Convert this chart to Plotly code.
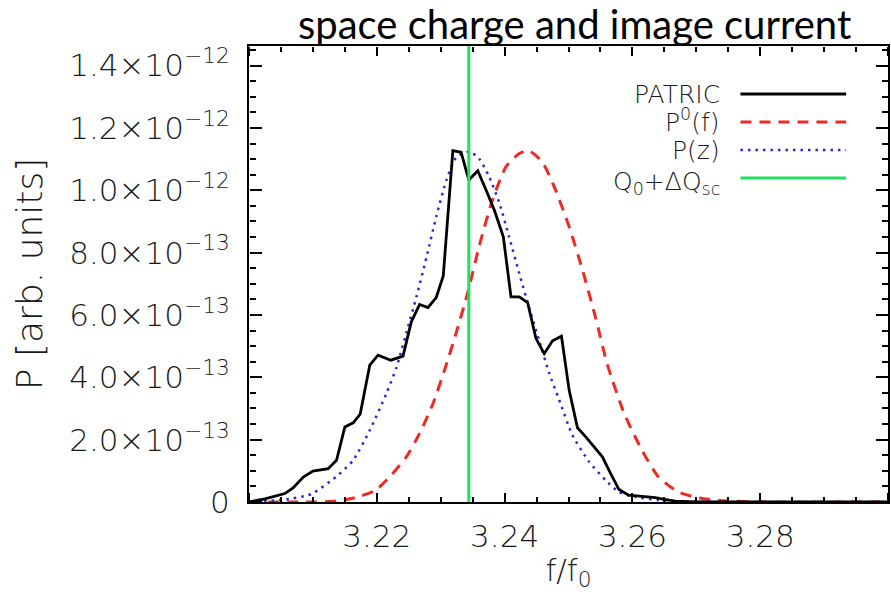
import plotly.graph_objects as go

# PATRIC simulated spectrum (f/f0, power in units of 1e-13)
patric_f = [3.2000, 3.2025, 3.2056, 3.2069, 3.2085, 3.2100, 3.2124, 3.2137, 3.2150,
            3.2163, 3.2174, 3.2189, 3.2202, 3.2222, 3.2241, 3.2254, 3.2267, 3.2280,
            3.2293, 3.2304, 3.2319, 3.2332, 3.2344, 3.2358, 3.2371, 3.2384, 3.2398,
            3.2410, 3.2423, 3.2436, 3.2449, 3.2462, 3.2475, 3.2489, 3.2501, 3.2514,
            3.2527, 3.2540, 3.2553, 3.2566, 3.2579, 3.2594, 3.2636, 3.2652, 3.2667,
            3.2700, 3.3000]
patric_p = [0.00, 0.10, 0.27, 0.45, 0.80, 0.99, 1.07, 1.34, 2.41,
            2.54, 2.82, 4.39, 4.71, 4.55, 4.68, 5.78, 6.34, 6.24,
            6.56, 7.25, 11.27, 11.22, 10.33, 10.63, 10.01, 9.36, 8.51,
            6.58, 6.58, 6.40, 5.25, 4.76, 5.17, 5.32, 3.59, 2.38,
            2.09, 1.77, 1.45, 0.91, 0.40, 0.22, 0.14, 0.08, 0.03,
            0.00, 0.00]

# P0(f): spectrum without space charge
p0_f = [3.2000, 3.2100, 3.2137, 3.2166, 3.2197, 3.2222, 3.2246, 3.2267, 3.2288,
        3.2306, 3.2324, 3.2342, 3.2360, 3.2381, 3.2402, 3.2423, 3.2438, 3.2459,
        3.2480, 3.2501, 3.2522, 3.2542, 3.2561, 3.2587, 3.2615, 3.2641, 3.2672,
        3.2704, 3.2735, 3.2800, 3.3000]
p0_p = [0.00, 0.00, 0.03, 0.14, 0.36, 0.85, 1.44, 2.20, 3.16,
        4.23, 5.41, 6.69, 8.19, 9.69, 10.75, 11.18, 11.27, 10.91,
        10.00, 8.83, 7.44, 5.94, 4.40, 2.85, 1.66, 0.80, 0.32,
        0.13, 0.05, 0.00, 0.00]

# P(z): spectrum shifted by the space charge tune shift
pz_f = [3.2000, 3.2056, 3.2097, 3.2136, 3.2163, 3.2189, 3.2215, 3.2231, 3.2246,
        3.2262, 3.2278, 3.2293, 3.2309, 3.2325, 3.2345, 3.2360, 3.2376, 3.2392,
        3.2407, 3.2423, 3.2438, 3.2454, 3.2470, 3.2485, 3.2506, 3.2532, 3.2558,
        3.2579, 3.2605, 3.2641, 3.2680, 3.2750, 3.3000]
pz_p = [0.00, 0.08, 0.25, 0.80, 1.34, 2.30, 3.48, 4.33, 5.41,
        6.58, 7.87, 9.15, 10.33, 11.08, 11.24, 11.02, 10.43, 9.58,
        8.51, 7.33, 6.26, 5.19, 4.12, 3.30, 2.15, 1.30, 0.70,
        0.32, 0.16, 0.06, 0.02, 0.00, 0.00]

# Q0 + dQsc marker
q_sc = 3.2344

SCALE = 1e-13
X_RANGE = [3.20, 3.30]
Y_RANGE = [0, 14.63 * SCALE]
x_ticks = [3.20, 3.22, 3.24, 3.26, 3.28, 3.30]
x_ticktext = ["", "3.22", "3.24", "3.26", "3.28", ""]
y_tick_mant = [0, 2.0, 4.0, 6.0, 8.0, 10.0, 12.0, 14.0]
y_ticks = [m * SCALE for m in y_tick_mant]
y_ticktext = ["0",
              "2.0×10<sup>−13</sup>", "4.0×10<sup>−13</sup>", "6.0×10<sup>−13</sup>",
              "8.0×10<sup>−13</sup>", "1.0×10<sup>−12</sup>", "1.2×10<sup>−12</sup>",
              "1.4×10<sup>−12</sup>"]

legend_labels = ["PATRIC", "P<sup>0</sup>(f)", "P(z)", "Q<sub>0</sub>+ΔQ<sub>sc</sub>"]

BLACK = "#000000"
RED = "#ee2a24"
BLUE = "#2a2ad0"
GREEN = "#1fe060"
FONT = dict(family="DejaVu Sans", size=31, color="#1a1a1a", weight=200)

fig = go.Figure()
fig.add_trace(go.Scatter(x=p0_f, y=[v * SCALE for v in p0_p], mode="lines",
                         line=dict(color=RED, width=3, dash="11px,8px", shape="spline", smoothing=0.6)))
fig.add_trace(go.Scatter(x=pz_f, y=[v * SCALE for v in pz_p], mode="lines",
                         line=dict(color=BLUE, width=2.5, dash="2.5px,5px", shape="spline", smoothing=0.6)))
fig.add_trace(go.Scatter(x=patric_f, y=[v * SCALE for v in patric_p], mode="lines",
                         line=dict(color=BLACK, width=2.8)))

# empty traces that attach the tick-only frame axes to the plot
for xa, ya in [("x2", "y"), ("x3", "y"), ("x", "y2"), ("x", "y3")]:
    fig.add_trace(go.Scatter(x=[], y=[], xaxis=xa, yaxis=ya, mode="lines",
                             hoverinfo="skip", showlegend=False))

fig.add_shape(type="line", xref="x", yref="paper", x0=q_sc, x1=q_sc, y0=0, y1=1,
              line=dict(color=GREEN, width=3))

# legend: text on the left, line sample on the right
leg_y = [0.8947, 0.8333, 0.7719, 0.7105]
leg_styles = [dict(color=BLACK, width=2.8),
              dict(color=RED, width=3, dash="11px,8px"),
              dict(color=BLUE, width=2.5, dash="2.5px,5px"),
              dict(color=GREEN, width=3)]
leg_shift = [0, 2, 0, -5]
for lab, yy, st, sh in zip(legend_labels, leg_y, leg_styles, leg_shift):
    fig.add_shape(type="line", xref="paper", yref="paper", x0=0.7691, x1=0.9345,
                  y0=yy, y1=yy, line=st)
    fig.add_annotation(xref="paper", yref="paper", x=0.7379, y=yy, text=lab,
                       xanchor="right", yanchor="middle", showarrow=False, yshift=sh,
                       borderpad=0,
                       font=dict(family="DejaVu Sans", size=25, color="#1a1a1a", weight=200))

fig.add_annotation(xref="paper", yref="paper", x=0.51, y=1.0, text="space charge and image current",
                   xanchor="center", yanchor="bottom", showarrow=False, yshift=-4,
                   font=dict(family="Lato", size=40, color="#000000", weight=400))

# frame axes whose outward ticks point into the plotting area
x_tick_axis = dict(range=X_RANGE, overlaying="x", anchor="free", tickmode="array",
                   tickvals=x_ticks, ticks="outside", ticklen=9, tickwidth=2,
                   tickcolor="#000000", showticklabels=False, showline=False,
                   showgrid=False, zeroline=False,
                   minor=dict(tickmode="linear", tick0=3.2, dtick=0.005, ticks="outside",
                              ticklen=5, tickwidth=2, tickcolor="#000000", showgrid=False))
y_tick_axis = dict(range=Y_RANGE, overlaying="y", anchor="free", tickmode="array",
                   tickvals=y_ticks, ticks="outside", ticklen=12, tickwidth=2,
                   tickcolor="#000000", showticklabels=False, showline=False,
                   showgrid=False, zeroline=False,
                   minor=dict(tickmode="linear", tick0=0, dtick=0.5 * SCALE, ticks="outside",
                              ticklen=6, tickwidth=2, tickcolor="#000000", showgrid=False))

fig.update_layout(
    width=891, height=607, showlegend=False,
    margin=dict(l=249, r=1, t=46, b=105),
    plot_bgcolor="white", paper_bgcolor="white",
    xaxis=dict(range=X_RANGE, tickmode="array", tickvals=x_ticks, ticktext=x_ticktext,
               ticks="", ticklabelstandoff=6, showline=True, linewidth=2,
               linecolor="black", mirror=True, showgrid=False, zeroline=False,
               tickfont=FONT, title=dict(text="f/f<sub>0</sub>", font=FONT, standoff=6)),
    yaxis=dict(range=Y_RANGE, tickmode="array", tickvals=y_ticks, ticktext=y_ticktext,
               ticks="", ticklabelstandoff=11, showline=True, linewidth=2,
               linecolor="black", mirror=True, showgrid=False, zeroline=False,
               tickfont=FONT,
               title=dict(text="P [arb. units]", font=dict(FONT, size=36), standoff=16)),
    xaxis2=dict(x_tick_axis, side="top", position=0),
    xaxis3=dict(x_tick_axis, side="bottom", position=1),
    yaxis2=dict(y_tick_axis, side="right", position=0),
    yaxis3=dict(y_tick_axis, side="left", position=1),
)

fig.write_html("out.html")
